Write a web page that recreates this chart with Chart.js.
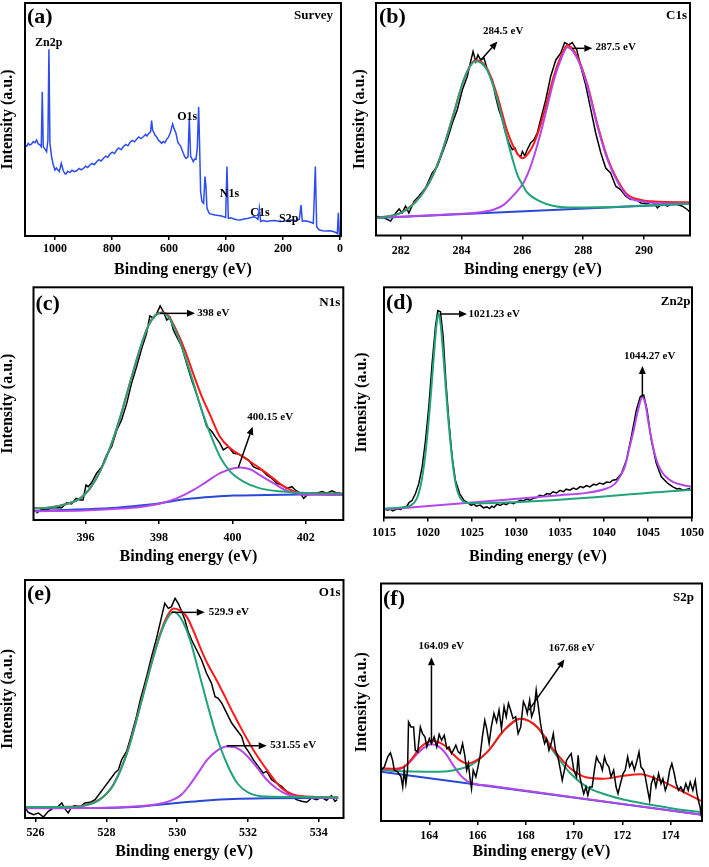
<!DOCTYPE html>
<html>
<head>
<meta charset="utf-8">
<script src="https://cdn.jsdelivr.net/npm/chart.js@4.4.1/dist/chart.umd.min.js"></script>
<style>
  html, body { margin: 0; padding: 0; background: #fff; }
  #wrap { position: relative; width: 709px; height: 867px; overflow: hidden; }
  canvas { position: absolute; }
</style>
</head>
<body>
<div id="wrap">
  <canvas id="pa"></canvas><canvas id="pb"></canvas>
  <canvas id="pc"></canvas><canvas id="pd"></canvas>
  <canvas id="pe"></canvas><canvas id="pf"></canvas>
</div>
<script>
// ---- tick labels ----
const aTicks = [0, 200, 400, 600, 800, 1000];
const bTicks = [282, 284, 286, 288, 290];
const cTicks = [396, 398, 400, 402];
const dTicks = [1015, 1020, 1025, 1030, 1035, 1040, 1045, 1050];
const eTicks = [526, 528, 530, 532, 534];
const fTicks = [164, 166, 168, 170, 172, 174];

// ---- (a) survey: [binding energy, intensity] ----
const aSurvey = [[1105,39.1],[1099,38.5],[1093.6,39.8],[1088,39.0],[1081.9,39.5],[1076,40.5],[1070,40.0],[1064.3,41.2],[1058.5,39.5],[1052.6,39.1],[1047.9,38.3],[1044.4,61.9],[1040.9,38.3],[1033.9,37.2],[1029.2,36.2],[1024.6,41.2],[1021.1,80.1],[1017.5,39.8],[1011.7,34.0],[1005.8,30.5],[1000,28.3],[995,29.2],[991.8,28.6],[984.8,27.6],[977.8,31.2],[970.8,28.0],[965,26.8],[961.4,26.6],[955,27.8],[947.4,27.2],[940,28.2],[932,27.6],[924,28.0],[915,29.0],[908,28.4],[900.6,29.0],[892,30.0],[885,29.4],[877.2,30.5],[870,31.2],[862,30.6],[853.8,31.9],[846,32.8],[838,32.2],[830.4,33.3],[822,34.3],[815,33.8],[807,35.2],[799,36.0],[791,35.4],[783.6,36.9],[776,37.8],[768,37.0],[760.2,38.3],[752,39.3],[744,38.7],[736.8,40.1],[729,41.0],[721,40.4],[713.5,41.5],[706,42.5],[698,41.8],[690.1,42.6],[682,43.6],[677,42.9],[672.5,43.8],[664.3,44.8],[660.8,49.5],[657.3,45.5],[649.1,43.3],[643,42.5],[637.4,41.2],[631,40.5],[625.7,39.8],[620,40.6],[614,40.1],[608,41.5],[602.3,42.3],[597,43.8],[594.2,44.8],[587.1,48.1],[582.5,46.2],[575.4,44.1],[568.4,40.1],[563,39.2],[559.1,38.6],[554,36.8],[549.7,35.5],[545,34.2],[540.4,33.3],[533.3,34.0],[528.7,50.5],[524,34.3],[519,33.0],[514.6,31.9],[510,33.0],[505.3,32.9],[500.6,37.6],[495.9,55.5],[492.4,38.3],[488.9,19.0],[484.2,14.7],[478.4,14.0],[473.7,25.5],[470.2,21.2],[466.7,11.9],[458.5,9.7],[450,9.3],[438.6,9.0],[427,8.8],[415.2,8.6],[401.2,8.0],[396.5,29.8],[391.8,7.6],[383,7.8],[374.3,7.4],[362,7.0],[350.9,6.9],[336,7.3],[321.6,7.6],[310,8.0],[301.8,8.3],[294,7.8],[287.7,7.2],[283,11.9],[278.4,6.2],[268,6.6],[257.3,6.2],[243,6.5],[228.1,6.6],[213,6.2],[198.8,6.3],[185,6.7],[169.6,6.9],[156,6.6],[142.7,7.2],[136.8,13.3],[132.2,6.4],[121,6.5],[111.1,6.2],[100,5.8],[93.6,5.4],[86.5,29.8],[81.9,4.0],[72.5,2.6],[60,2.3],[46.8,2.1],[35,2.2],[23.4,1.9],[15,1.5],[9.4,1.1],[5.8,10.0],[2.3,0.4],[-2.3,1.1]];

// ---- (b) C1s ----
const bRaw = [[281.19,8.3],[281.45,7.6],[281.67,6.2],[281.84,9.7],[281.95,11.4],[282.05,9.7],[282.16,12.6],[282.27,9.7],[282.44,14.7],[282.6,16.9],[282.82,20.5],[283.04,26.9],[283.21,29.8],[283.37,35.5],[283.53,41.2],[283.7,48.4],[283.86,54.1],[284.03,62.7],[284.19,68.4],[284.3,74.8],[284.38,79.1],[284.47,74.8],[284.54,77.7],[284.63,75.5],[284.74,76.3],[284.85,71.2],[285.01,67.0],[285.12,59.8],[285.23,54.1],[285.34,49.8],[285.45,44.1],[285.56,39.8],[285.67,36.9],[285.76,37.6],[285.84,34.8],[285.95,34.0],[286.0,36.2],[286.08,34.3],[286.16,36.9],[286.27,39.8],[286.38,41.2],[286.49,44.1],[286.6,49.8],[286.77,58.4],[286.93,68.4],[287.1,75.5],[287.26,78.4],[287.39,83.0],[287.53,82.0],[287.64,83.0],[287.79,79.8],[287.92,72.7],[288.08,64.8],[288.25,54.1],[288.41,44.1],[288.58,35.5],[288.74,29.0],[288.9,26.9],[289.07,21.2],[289.23,19.7],[289.4,16.9],[289.56,15.5],[289.73,15.7],[289.89,14.0],[290.11,13.7],[290.27,14.7],[290.44,11.9],[290.6,13.7],[290.77,12.6],[290.93,14.0],[291.1,13.3],[291.26,12.6],[291.42,11.2],[291.51,10.0]];
const bEnvelope = [[281.19,7.6],[282.0,9.7],[282.66,17.1],[283.1,27.1],[283.42,38.4],[283.75,52.8],[284.08,67.2],[284.36,74.5],[284.5,75.4],[284.65,74.7],[284.85,71.6],[285.18,60.0],[285.5,45.0],[285.75,37.2],[286.0,33.2],[286.2,35.4],[286.4,40.2],[286.6,47.7],[286.82,58.1],[287.04,68.8],[287.26,76.8],[287.48,81.8],[287.8,77.0],[288.14,64.8],[288.47,47.6],[288.8,33.3],[289.12,24.0],[289.45,17.6],[289.9,15.3],[290.33,14.6],[291.51,14.3]];
const bPeak1 = [[281.19,7.4],[281.6,8.2],[282.0,9.6],[282.3,12.0],[282.66,17.0],[283.1,27.0],[283.42,38.3],[283.75,52.6],[284.08,67.0],[284.36,74.2],[284.5,75.0],[284.65,74.2],[284.85,71.0],[285.18,58.4],[285.5,41.5],[285.84,26.0],[286.0,21.9],[286.16,18.5],[286.6,14.6],[287.0,12.8],[287.5,12.0],[288.5,12.1],[289.5,12.6],[290.5,13.1],[291.51,13.7]];
const bPeak2 = [[281.19,7.6],[283.5,9.0],[284.63,10.0],[285.07,11.2],[285.4,13.3],[285.73,17.6],[286.0,21.9],[286.16,26.0],[286.38,34.0],[286.6,44.0],[286.82,55.5],[287.04,67.0],[287.26,75.5],[287.48,81.0],[287.8,76.3],[288.14,64.1],[288.47,46.9],[288.8,32.6],[289.12,23.3],[289.45,16.9],[289.9,14.7],[290.33,14.0],[291.51,13.7]];
const bBackground = [[281.19,7.5],[291.51,13.7]];

// ---- (c) N1s ----
const cRaw = [[394.66,2.9],[394.8,4.6],[394.94,4.3],[395.07,5.2],[395.21,5.4],[395.35,5.3],[395.48,7.4],[395.62,6.9],[395.74,9.3],[395.85,8.6],[395.93,8.6],[396.01,15.0],[396.07,14.3],[396.16,16.0],[396.3,20.1],[396.44,22.9],[396.57,27.9],[396.71,31.5],[396.85,38.7],[396.98,43.0],[397.12,50.1],[397.25,58.7],[397.39,65.9],[397.53,73.8],[397.66,80.2],[397.75,87.7],[397.85,86.7],[397.94,88.8],[398.03,92.0],[398.12,89.5],[398.21,85.9],[398.3,87.1],[398.39,81.7],[398.48,78.8],[398.62,74.5],[398.75,67.3],[398.89,60.2],[399.03,53.7],[399.16,47.3],[399.3,40.1],[399.44,38.0],[399.53,35.8],[399.66,32.9],[399.75,30.1],[399.89,31.5],[400.03,28.7],[400.16,28.4],[400.3,27.2],[400.44,25.8],[400.57,22.9],[400.66,22.2],[400.8,21.5],[400.94,19.3],[401.07,17.9],[401.21,15.8],[401.35,15.0],[401.48,13.6],[401.62,14.3],[401.71,12.9],[401.85,11.5],[401.94,9.3],[402.03,10.7],[402.16,11.5],[402.3,11.5],[402.44,12.2],[402.57,11.5],[402.71,12.5],[402.85,11.5],[402.94,11.7]];
const cEnvelope = [[394.58,5.0],[395.03,5.4],[395.48,6.9],[395.85,9.3],[396.12,13.6],[396.39,20.8],[396.66,30.8],[396.94,44.0],[397.21,59.0],[397.48,73.5],[397.71,83.5],[397.89,87.9],[398.07,89.2],[398.25,87.9],[398.48,81.2],[398.71,72.7],[398.94,62.5],[399.16,53.2],[399.39,45.2],[399.66,35.8],[399.94,30.8],[400.3,27.0],[400.75,22.2],[401.12,17.8],[401.39,14.6],[401.85,11.6],[402.5,11.4],[403.02,11.3]];
const cPeak1 = [[394.58,5.0],[395.03,5.4],[395.48,6.9],[395.85,9.3],[396.12,13.6],[396.39,20.8],[396.66,30.8],[396.94,44.0],[397.21,59.0],[397.48,73.5],[397.71,83.5],[397.89,87.8],[398.07,89.0],[398.25,87.4],[398.48,80.2],[398.71,70.2],[398.94,58.7],[399.16,47.3],[399.39,37.2],[399.66,27.2],[399.94,20.8],[400.3,16.5],[400.75,13.6],[401.39,12.2],[402.12,11.5],[403.02,11.3]];
const cPeak2 = [[394.58,3.8],[395.94,4.1],[396.85,4.8],[397.48,5.6],[398.03,7.1],[398.48,9.3],[398.94,12.9],[399.3,16.5],[399.66,20.1],[400.03,22.2],[400.21,22.6],[400.48,21.8],[400.75,19.3],[401.12,15.8],[401.48,12.6],[401.85,11.1],[402.3,10.8],[403.02,10.7]];
const cBackground = [[394.58,3.9],[395.94,4.6],[396.85,5.3],[397.48,6.2],[398.03,7.2],[398.39,8.2],[398.75,9.0],[399.48,10.0],[400.03,10.5],[400.94,10.7],[401.85,11.0],[403.02,11.2]];

// ---- (d) Zn2p ----
const dRaw = [[1015,3.9],[1015.38,3.2],[1015.7,3.6],[1016.0,2.9],[1016.5,3.8],[1016.9,3.5],[1017.26,4.6],[1017.6,4.9],[1017.83,6.4],[1018.2,7.5],[1018.58,10.4],[1018.96,14.8],[1019.34,22.0],[1019.72,33.6],[1020.09,48.1],[1020.47,67.0],[1020.85,82.9],[1021.11,89.9],[1021.42,89.4],[1021.72,78.6],[1022.02,59.7],[1022.36,42.3],[1022.74,26.4],[1023.11,16.2],[1023.6,10.4],[1024.06,7.5],[1024.62,6.1],[1024.9,5.3],[1025.19,5.8],[1025.5,4.9],[1025.94,5.4],[1026.3,4.2],[1026.7,4.6],[1027.0,3.9],[1027.26,4.9],[1027.5,4.3],[1027.83,5.8],[1028.2,5.2],[1028.58,6.1],[1028.9,5.6],[1029.3,6.6],[1029.7,6.0],[1030.09,6.8],[1030.5,7.5],[1030.85,7.2],[1031.2,8.0],[1031.6,7.5],[1032.0,8.4],[1032.36,8.7],[1032.7,9.6],[1033.11,9.3],[1033.5,10.4],[1033.87,10.1],[1034.2,11.2],[1034.62,10.7],[1035.0,11.8],[1035.38,11.2],[1035.7,12.3],[1036.13,11.9],[1036.5,12.8],[1036.89,12.2],[1037.3,13.4],[1037.64,13.0],[1038.0,13.9],[1038.4,13.3],[1038.8,14.4],[1039.15,14.1],[1039.5,15.0],[1039.91,14.5],[1040.3,15.4],[1040.66,15.2],[1041.0,16.2],[1041.42,16.5],[1041.98,19.1],[1042.55,24.9],[1043.11,35.1],[1043.68,46.7],[1044.13,52.5],[1044.51,53.2],[1044.89,46.7],[1045.38,33.6],[1045.94,23.5],[1046.51,17.7],[1047.26,14.8],[1047.83,13.3],[1048.3,12.4],[1048.58,12.6],[1049.0,11.9],[1049.34,12.2],[1049.79,12.6]];
const dPeak1 = [[1015,3.9],[1017,4.4],[1018,5.2],[1018.7,8.0],[1019.2,14.5],[1019.7,27.5],[1020.2,47.5],[1020.6,67.0],[1020.95,83.0],[1021.2,88.7],[1021.45,83.5],[1021.8,67.5],[1022.2,47.5],[1022.7,27.0],[1023.2,13.5],[1023.7,8.2],[1024.3,6.5],[1025,6.2],[1050,12.1]];
const dPeak2 = [[1015,3.5],[1025,6.5],[1035,9.7],[1038,10.7],[1040.3,12.6],[1041.2,14.5],[1041.8,17.7],[1042.36,22.0],[1042.92,30.7],[1043.38,38.0],[1043.87,46.7],[1044.36,52.2],[1044.77,48.1],[1045.0,42.3],[1045.4,34.0],[1045.75,27.8],[1046.2,22.5],[1046.7,19.1],[1047.3,16.8],[1047.83,15.5],[1048.8,14.2],[1050,13.3]];

// ---- (e) O1s ----
const eRaw = [[525.7,4.6],[525.79,2.4],[525.94,1.4],[526.08,2.1],[526.22,0.4],[526.36,2.8],[526.5,4.2],[526.64,4.9],[526.74,6.3],[526.83,3.8],[526.92,2.1],[527.02,4.6],[527.11,5.2],[527.25,4.6],[527.39,6.3],[527.54,6.6],[527.68,7.7],[527.82,10.5],[527.96,13.3],[528.1,16.1],[528.24,18.9],[528.34,20.3],[528.43,24.5],[528.57,28.0],[528.71,35.0],[528.85,42.7],[528.96,49.7],[529.14,59.6],[529.28,68.0],[529.42,75.7],[529.56,84.6],[529.65,90.2],[529.75,88.1],[529.84,88.8],[529.94,92.3],[530.03,90.2],[530.13,86.7],[530.22,83.2],[530.31,78.3],[530.41,74.8],[530.55,70.6],[530.69,66.4],[530.83,60.8],[530.97,56.6],[531.07,51.0],[531.16,50.3],[531.26,48.3],[531.4,44.1],[531.54,39.9],[531.68,37.1],[531.82,34.3],[531.91,30.1],[532.01,28.0],[532.15,24.5],[532.29,21.7],[532.43,18.9],[532.53,19.6],[532.67,16.1],[532.81,14.7],[532.95,13.3],[533.09,11.2],[533.23,9.1],[533.37,7.7],[533.52,7.0],[533.66,6.6],[533.8,8.4],[533.94,7.7],[534.08,8.7],[534.22,7.4],[534.36,9.4],[534.46,7.0],[534.52,7.7]];
const eEnvelope = [[525.7,4.6],[527.0,4.7],[527.8,7.7],[528.2,14.1],[528.6,28.2],[529.0,49.8],[529.25,63.8],[529.5,76.5],[529.7,84.3],[529.9,88.0],[530.1,87.0],[530.27,84.6],[530.45,79.0],[530.64,72.0],[530.85,65.0],[531.11,58.0],[531.35,51.0],[531.58,44.1],[531.85,36.5],[532.15,28.7],[532.53,20.3],[532.8,15.0],[533.0,12.0],[533.47,9.2],[534.55,8.6]];
const ePeak1 = [[525.7,4.6],[526.9,4.6],[527.4,5.3],[527.8,7.6],[528.2,14.0],[528.6,28.0],[529.0,49.5],[529.25,63.5],[529.5,76.0],[529.7,83.3],[529.9,86.7],[530.1,84.0],[530.35,75.5],[530.6,62.0],[530.85,48.0],[531.1,35.0],[531.4,23.0],[531.7,14.6],[532.0,10.8],[532.5,9.0],[533.5,8.8],[534.55,8.6]];
const ePeak2 = [[525.7,4.1],[528.0,4.3],[529.0,5.0],[529.5,6.0],[529.8,7.2],[530.1,9.5],[530.35,13.8],[530.64,20.0],[530.85,24.5],[531.1,28.0],[531.4,30.0],[531.6,29.8],[531.85,27.8],[532.15,23.2],[532.5,16.6],[532.8,12.5],[533.1,10.0],[533.5,8.8],[534.55,8.4]];
const eBackground = [[525.7,4.2],[527.82,4.2],[528.76,4.6],[529.23,5.2],[529.7,5.9],[530.27,6.7],[530.83,7.4],[531.59,8.0],[532.53,8.3],[534.55,8.5]];

// ---- (f) S2p ----
const fRaw = [[162.0,21.4],[162.14,22.8],[162.28,27.0],[162.39,28.7],[162.48,25.6],[162.55,21.4],[162.69,20.7],[162.83,18.6],[162.9,14.3],[162.96,21.4],[163.03,15.7],[163.1,21.4],[163.14,41.7],[163.24,39.6],[163.35,39.6],[163.42,29.8],[163.52,29.1],[163.63,39.6],[163.72,36.8],[163.82,35.4],[163.9,31.2],[164.0,34.7],[164.09,32.6],[164.2,35.4],[164.31,31.2],[164.41,36.5],[164.51,34.0],[164.62,36.1],[164.73,30.5],[164.82,31.2],[164.92,28.4],[165.0,29.8],[165.1,31.9],[165.2,29.1],[165.28,28.4],[165.38,32.6],[165.47,27.7],[165.55,21.4],[165.62,24.2],[165.69,17.8],[165.75,13.6],[165.82,21.4],[165.93,18.6],[166.02,22.8],[166.11,27.7],[166.2,35.4],[166.3,42.4],[166.38,38.9],[166.48,32.6],[166.57,39.6],[166.68,45.3],[166.79,41.7],[166.89,46.7],[166.99,38.9],[167.1,48.1],[167.19,43.9],[167.28,49.5],[167.37,46.7],[167.47,43.1],[167.58,43.9],[167.68,36.8],[167.79,39.6],[167.9,50.2],[167.99,48.1],[168.06,45.3],[168.16,50.9],[168.24,43.9],[168.34,46.7],[168.43,55.1],[168.52,48.1],[168.61,41.0],[168.71,35.4],[168.78,32.6],[168.86,34.7],[168.96,29.8],[169.05,32.6],[169.14,36.8],[169.23,29.8],[169.33,27.0],[169.41,22.8],[169.51,17.1],[169.6,21.4],[169.69,25.6],[169.78,27.0],[169.88,28.4],[169.99,21.4],[170.1,18.6],[170.17,27.7],[170.24,18.6],[170.33,14.3],[170.4,11.5],[170.49,14.3],[170.57,10.8],[170.65,14.3],[170.75,14.3],[170.84,21.4],[170.93,27.0],[171.02,24.9],[171.09,24.2],[171.17,21.4],[171.26,27.0],[171.34,24.2],[171.44,22.8],[171.53,18.6],[171.64,21.4],[171.74,14.3],[171.82,11.5],[171.92,15.7],[172.03,20.0],[172.12,21.4],[172.22,27.0],[172.3,22.8],[172.4,24.9],[172.5,21.4],[172.61,25.6],[172.69,29.1],[172.77,22.8],[172.88,21.4],[172.95,18.6],[173.05,12.9],[173.13,8.7],[173.2,15.7],[173.3,18.6],[173.39,14.3],[173.5,20.0],[173.6,15.7],[173.68,17.8],[173.78,12.9],[173.87,15.7],[173.96,21.4],[174.05,24.2],[174.15,20.0],[174.23,15.7],[174.33,12.9],[174.42,14.3],[174.53,12.2],[174.63,15.7],[174.73,12.9],[174.81,16.4],[174.92,12.9],[175.02,17.1],[175.09,11.5],[175.15,8.7],[175.22,5.9],[175.28,1.7]];
const fEnvelope = [[162.0,22.1],[162.5,22.0],[162.96,22.8],[163.3,26.5],[163.65,31.2],[164.13,33.7],[164.62,31.9],[165.03,27.7],[165.3,25.3],[165.58,24.2],[165.9,25.2],[166.41,29.1],[167.1,38.2],[167.79,43.1],[168.47,39.6],[169.16,29.8],[169.85,22.1],[170.54,18.3],[171.23,17.8],[171.92,18.8],[172.74,19.7],[173.57,17.1],[174.4,12.9],[175.3,8.3]];
const fPeak1 = [[162.0,21.4],[162.5,21.2],[162.9,22.5],[163.2,24.8],[163.5,28.3],[163.8,31.0],[164.1,32.3],[164.4,31.3],[164.7,28.2],[165.0,23.3],[165.3,19.2],[165.6,16.6],[165.9,15.6],[166.5,14.8],[175.3,2.6]];
const fPeak2 = [[162.0,21.6],[162.96,20.9],[164.34,20.7],[165.03,21.4],[165.72,23.5],[166.41,29.1],[167.1,38.2],[167.79,43.1],[168.47,39.6],[169.16,29.1],[169.85,20.0],[170.54,14.3],[171.2,11.5],[171.92,9.4],[172.6,7.9],[173.29,6.6],[174.2,5.1],[175.3,3.7]];
const fBackground = [[162.0,20.7],[175.3,2.6]];

const FONT = '"Liberation Serif", "Times New Roman", serif';
const RED = '#ff1a1a', GREEN = '#22a37a', PURPLE = '#b447ea', BLUE = '#2a48d6';

function line(pts, color, width, smooth) {
  return {
    data: pts.map(([x, y]) => ({ x, y })),
    borderColor: color,
    borderWidth: width,
    showLine: true,
    pointRadius: 0,
    fill: false,
    tension: 0,
    cubicInterpolationMode: smooth ? 'monotone' : 'default'
  };
}

const frame = {
  id: 'frame',
  afterDatasetsDraw(chart) {
    const { ctx, chartArea: a } = chart;
    ctx.save();
    ctx.strokeStyle = '#000';
    ctx.lineWidth = 2;
    ctx.strokeRect(a.left, a.top, a.right - a.left, a.bottom - a.top);
    ctx.restore();
  }
};

function drawArrow(ctx, x1, y1, x2, y2) {
  const ang = Math.atan2(y2 - y1, x2 - x1);
  const hl = 8, hw = 3.5;
  const bx = x2 - hl * Math.cos(ang), by = y2 - hl * Math.sin(ang);
  ctx.lineWidth = 1.5;
  ctx.beginPath();
  ctx.moveTo(x1, y1);
  ctx.lineTo(bx, by);
  ctx.stroke();
  ctx.beginPath();
  ctx.moveTo(x2, y2);
  ctx.lineTo(bx + hw * Math.sin(ang), by - hw * Math.cos(ang));
  ctx.lineTo(bx - hw * Math.sin(ang), by + hw * Math.cos(ang));
  ctx.closePath();
  ctx.fill();
}

// panel letter, panel name and peak labels/arrows (label positions are in data units)
function makeNotes(n) {
  return {
    id: 'notes',
    afterDraw(chart) {
      const { ctx, chartArea: a, scales: { x, y } } = chart;
      ctx.save();
      ctx.fillStyle = '#000';
      ctx.strokeStyle = '#000';
      ctx.textBaseline = 'middle';
      ctx.textAlign = 'left';
      ctx.font = 'bold 22px ' + FONT;
      ctx.fillText(n.letter, a.left + n.letterAt[0], a.top + n.letterAt[1]);
      ctx.textAlign = 'right';
      ctx.font = 'bold 13px ' + FONT;
      ctx.fillText(n.name, a.right - n.nameAt[0], a.top + n.nameAt[1]);
      ctx.textAlign = 'center';
      ctx.font = 'bold ' + (n.labelSize || 11) + 'px ' + FONT;
      (n.labels || []).forEach(([t, lx, ly]) => ctx.fillText(t, x.getPixelForValue(lx), y.getPixelForValue(ly)));
      (n.arrows || []).forEach(([x1, y1, x2, y2]) =>
        drawArrow(ctx, x.getPixelForValue(x1), y.getPixelForValue(y1), x.getPixelForValue(x2), y.getPixelForValue(y2)));
      ctx.restore();
    }
  };
}

function panel(id, g, ax, sets, notes) {
  const cv = document.getElementById(id);
  cv.width = g.cw;
  cv.height = g.ch;
  cv.style.left = g.cx + 'px';
  cv.style.top = g.cy + 'px';
  new Chart(cv, {
    type: 'scatter',
    data: { datasets: sets },
    options: {
      responsive: false,
      animation: false,
      events: [],
      layout: { padding: { left: 0, top: g.t - g.cy, right: g.cx + g.cw - g.r, bottom: 0 } },
      plugins: { legend: { display: false }, tooltip: { enabled: false } },
      scales: {
        x: {
          type: 'linear',
          min: ax.min,
          max: ax.max,
          reverse: !!ax.reverse,
          bounds: 'data',
          afterBuildTicks: s => { s.ticks = ax.ticks.map(v => ({ value: v })); },
          afterFit: s => { s.height = g.cy + g.ch - g.b; },
          grid: { display: true, drawOnChartArea: false, drawTicks: true, tickLength: 4, color: '#000', lineWidth: 1.5 },
          border: { display: false },
          ticks: {
            color: '#000', padding: g.tickPad, maxRotation: 0, autoSkip: false,
            font: { family: FONT, weight: 'bold', size: 12 },
            callback: v => String(v)
          },
          title: {
            display: true, text: 'Binding energy (eV)', color: '#000',
            font: { family: FONT, weight: 'bold', size: 16, lineHeight: 1 },
            padding: { top: 0, bottom: g.titlePad }
          }
        },
        y: {
          min: 0,
          max: 100,
          afterFit: s => { s.width = g.l - g.cx; },
          ticks: { display: false },
          grid: { display: false },
          border: { display: false },
          title: {
            display: true, text: 'Intensity (a.u.)', color: '#000',
            font: { family: FONT, weight: 'bold', size: 16, lineHeight: 1 },
            padding: { top: g.yTitlePad, bottom: 0 }
          }
        }
      }
    },
    plugins: [frame, makeNotes(notes)]
  });
}

// (a)
panel('pa', { cx: 0, cy: 0, cw: 350, ch: 284, l: 25, t: 3, r: 341, b: 236, tickPad: 2, titlePad: 6, yTitlePad: 0.3 },
  { min: -3.5, max: 1105, reverse: true, ticks: aTicks },
  [line(aSurvey, '#2c4cf0', 1.5, false)],
  { letter: '(a)', letterAt: [2, 14], name: 'Survey', nameAt: [8, 13], labelSize: 12,
    labels: [['Zn2p', 1022, 83], ['O1s', 535.7, 50.9], ['N1s', 388, 17.9], ['C1s', 280.7, 10], ['S2p', 180, 7.2]] });

// (b)
panel('pb', { cx: 350, cy: 0, cw: 359, ch: 284, l: 376, t: 3, r: 690, b: 235.5, tickPad: 4.5, titlePad: 6, yTitlePad: 2 },
  { min: 281.19, max: 291.51, ticks: bTicks },
  [line(bPeak1, GREEN, 2, true), line(bPeak2, PURPLE, 2, true), line(bEnvelope, RED, 2, true),
   line(bBackground, BLUE, 2, false), line(bRaw, '#000', 1.5, false)],
  { letter: '(b)', letterAt: [3, 14], name: 'C1s', nameAt: [3, 13],
    labels: [['284.5 eV', 285.37, 87.7], ['287.5 eV', 289.07, 80.8]],
    arrows: [[284.63, 75.4, 285.18, 83.4], [287.64, 80.5, 288.3, 80.5]] });

// (c)
panel('pc', { cx: 0, cy: 284, cw: 350, ch: 288, l: 33.5, t: 287.3, r: 343.3, b: 520, tickPad: 6.7, titlePad: 7, yTitlePad: 0.3 },
  { min: 394.58, max: 403.02, ticks: cTicks },
  [line(cPeak1, GREEN, 2, true), line(cPeak2, PURPLE, 2, true), line(cEnvelope, RED, 2, true),
   line(cBackground, BLUE, 2, true), line(cRaw, '#000', 1.5, false)],
  { letter: '(c)', letterAt: [2, 17], name: 'N1s', nameAt: [3, 15],
    labels: [['398 eV', 399.48, 88.8], ['400.15 eV', 401.03, 44.1]],
    arrows: [[398.03, 88.8, 398.98, 88.8], [400.16, 22.6, 400.55, 40.1]] });

// (d)
panel('pd', { cx: 350, cy: 284, cw: 359, ch: 288, l: 384, t: 287.3, r: 692, b: 517.5, tickPad: 4.2, titlePad: 7.3, yTitlePad: 4.3 },
  { min: 1015, max: 1050, ticks: dTicks },
  [line(dPeak1, GREEN, 2, true), line(dPeak2, PURPLE, 2, true), line(dRaw, '#000', 1.5, false)],
  { letter: '(d)', letterAt: [2, 16], name: 'Zn2p', nameAt: [1.5, 14.4],
    labels: [['1021.23 eV', 1027.53, 88.4], ['1044.27 eV', 1045.19, 70.1]],
    arrows: [[1021.5, 88.4, 1024.43, 88.4], [1044.36, 52.5, 1044.36, 65.8]] });

// (e)
panel('pe', { cx: 0, cy: 572, cw: 350, ch: 295, l: 25, t: 580, r: 343.5, b: 818, tickPad: 3.7, titlePad: 7, yTitlePad: 0.3 },
  { min: 525.7, max: 534.7, ticks: eTicks },
  [line(ePeak1, GREEN, 2, true), line(ePeak2, PURPLE, 2, true), line(eEnvelope, RED, 2, true),
   line(eBackground, BLUE, 2, true), line(eRaw, '#000', 1.5, false)],
  { letter: '(e)', letterAt: [2, 14], name: 'O1s', nameAt: [3, 12.5],
    labels: [['529.9 eV', 531.46, 86.4], ['531.55 eV', 533.28, 30.5]],
    arrows: [[529.84, 86.4, 530.78, 86.4], [531.4, 30.4, 532.53, 30.4]] });

// (f)
panel('pf', { cx: 350, cy: 572, cw: 359, ch: 295, l: 381, t: 583.5, r: 702, b: 821, tickPad: 4, titlePad: 7.3, yTitlePad: 4 },
  { min: 162.0, max: 175.3, ticks: fTicks },
  [line(fRaw, '#000', 1.5, false), line(fEnvelope, RED, 2, true), line(fPeak2, GREEN, 2, true),
   line(fPeak1, PURPLE, 2, true), line(fBackground, BLUE, 2, false)],
  { letter: '(f)', letterAt: [2, 15.5], name: 'S2p', nameAt: [8, 14.5],
    labels: [['164.09 eV', 164.5, 73.5], ['167.68 eV', 169.9, 72.8]],
    arrows: [[164.09, 32.6, 164.09, 68.9], [168.13, 46.7, 169.6, 68.0]] });
</script>
</body>
</html>
